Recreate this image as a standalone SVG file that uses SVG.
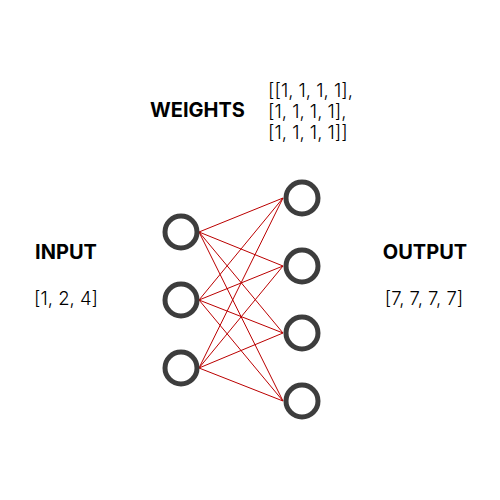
<svg xmlns="http://www.w3.org/2000/svg" width="500" height="500" viewBox="0 0 500 500">
<style>
.n{fill:#fff;stroke:#3d3d3d;stroke-width:5}
.c line{stroke:#bb0000;stroke-width:1}
.b{font-family:Inter,"Liberation Sans",sans-serif;font-weight:bold;font-size:20px;fill:#000}
.t{font-family:Inter,"Liberation Sans",sans-serif;font-weight:300;font-size:18.5px;fill:#000}
</style>
<rect width="500" height="500" fill="#fff"/>
<g class="c" id="connectors">
<line x1="199" y1="232" x2="283" y2="198"/>
<line x1="199" y1="232" x2="283" y2="266"/>
<line x1="199" y1="232" x2="283" y2="333"/>
<line x1="199" y1="232" x2="283" y2="401"/>
<line x1="199" y1="300" x2="283" y2="198"/>
<line x1="199" y1="300" x2="283" y2="266"/>
<line x1="199" y1="300" x2="283" y2="333"/>
<line x1="199" y1="300" x2="283" y2="401"/>
<line x1="199" y1="368" x2="283" y2="198"/>
<line x1="199" y1="368" x2="283" y2="266"/>
<line x1="199" y1="368" x2="283" y2="333"/>
<line x1="199" y1="368" x2="283" y2="401"/>
</g>
<g id="in1"><circle class="n" cx="181" cy="232" r="16"/></g>
<g id="in2"><circle class="n" cx="181" cy="300" r="16"/></g>
<g id="in3"><circle class="n" cx="181" cy="368" r="16"/></g>
<g id="out1"><circle class="n" cx="302" cy="198" r="16"/></g>
<g id="out2"><circle class="n" cx="302" cy="266" r="16"/></g>
<g id="out3"><circle class="n" cx="302" cy="333" r="16"/></g>
<g id="out4"><circle class="n" cx="302" cy="401" r="16"/></g>
<g id="weights">
<text class="b" x="150" y="117">WEIGHTS</text>
<text class="t" x="268" y="97">[[1, 1, 1, 1],</text>
<text class="t" x="268" y="118">[1, 1, 1, 1],</text>
<text class="t" x="268" y="139">[1, 1, 1, 1]]</text>
</g>
<g id="input">
<text class="b" x="66" y="259" text-anchor="middle">INPUT</text>
<text class="t" x="66" y="305" text-anchor="middle">[1, 2, 4]</text>
</g>
<g id="output">
<text class="b" x="425" y="259" text-anchor="middle">OUTPUT</text>
<text class="t" x="424" y="305" text-anchor="middle">[7, 7, 7, 7]</text>
</g>
</svg>
